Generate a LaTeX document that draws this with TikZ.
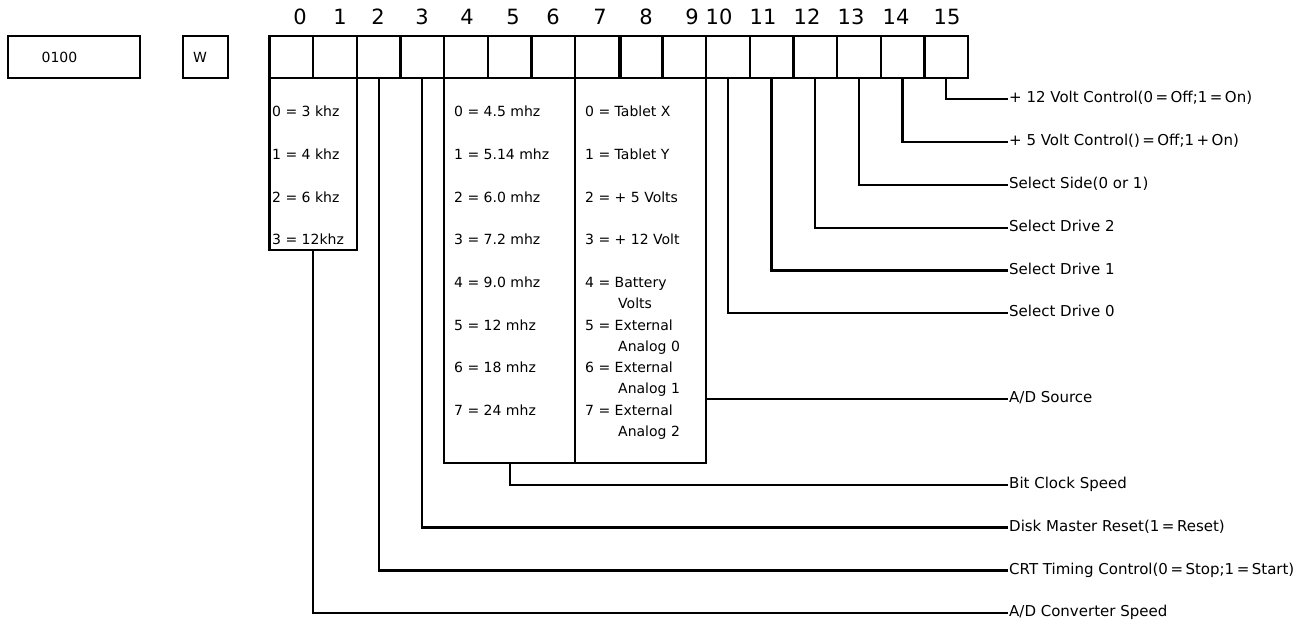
\documentclass[tikz,border=0pt]{standalone}
\usepackage{fontspec}
\setmainfont{DejaVu Sans}
\newcommand\labfont{\fontsize{15}{18}\selectfont}
\newcommand\valfont{\fontsize{14}{17}\selectfont}
\newcommand\digfont{\fontsize{21}{24}\selectfont}
\newcommand\eqs{\,=\,}
\begin{document}
\begin{tikzpicture}[x=1pt,y=-1pt,
  ln/.style={line width=2.2pt},
  cell/.style={draw,line width=2.2pt,minimum width=43.66pt,minimum height=42pt,inner sep=0pt},
  boxr/.style={draw,line width=2.2pt,inner sep=0pt},
  dig/.style={font=\digfont,inner sep=0pt},
  lab/.style={anchor=west,inner sep=1pt,font=\labfont,text height=0.73em,text depth=0pt},
  val/.style={anchor=west,inner sep=0pt,font=\valfont,text height=0.73em,text depth=0pt}]
\useasboundingbox[fill=white] (0,0) rectangle (1312,625);

% left boxes
\node[boxr,minimum width=132pt,minimum height=42pt] (addr) at (74,57) {};
\node[font=\valfont,inner sep=0pt] (addrtxt) at (59.5,57) {0100};
\node[boxr,minimum width=45pt,minimum height=42pt] (wbox) at (205.5,57) {};
\node[font=\valfont,inner sep=0pt] (wtxt) at (200,57) {W};

% register cells
\foreach \i in {0,...,15}
  \node[cell] (c\i) at ({269.5+43.66*(\i+0.5)},57) {};
\draw[line width=4.5pt] (c7.north east) -- (c7.south east);

% bit numbers
\foreach \i/\x in {0/300,1/340,2/378,3/422,4/467,5/513,6/553,7/600,8/646,9/692,10/719,11/763,12/807,13/851,14/896,15/947}
  \node[dig] (d\i) at (\x,17) {\i};

% value boxes
\node[boxr,minimum width=87.3pt,minimum height=172pt] (adbox) at (313.15,164) {};
\node[boxr,minimum width=131pt,minimum height=385pt] (clkbox) at (509.6,270.5) {};
\node[boxr,minimum width=131pt,minimum height=385pt] (srcbox) at (640.6,270.5) {};

% A/D converter speed values
\foreach \t [count=\k from 0] in {{0 = 3 khz},{1 = 4 khz},{2 = 6 khz},{3 = 12khz}}
  \node[val] (a\k) at (272,{113+42.7*\k}) {\t};

% bit clock speed values
\foreach \t [count=\k from 0] in {{0 = 4.5 mhz},{1 = 5.14 mhz},{2 = 6.0 mhz},{3 = 7.2 mhz},{4 = 9.0 mhz},{5 = 12 mhz},{6 = 18 mhz},{7 = 24 mhz}}
  \node[val] (b\k) at (454,{113+42.7*\k}) {\t};

% A/D source values
\foreach \t [count=\k from 0] in {{0 = Tablet X},{1 = Tablet Y},{2 = + 5 Volts},{3 = + 12 Volt},{4 = Battery},{5 = External},{6 = External},{7 = External}}
  \node[val] (s\k) at (585,{113+42.7*\k}) {\t};
\foreach \t [count=\k from 4] in {{Volts},{Analog 0},{Analog 1},{Analog 2}}
  \node[val] (t\k) at (618,{134+42.7*\k}) {\t};

% right labels
\node[lab] (l15) at (1008,99) {+ 12 Volt Control(0\eqs Off;1\eqs On)};
\node[lab] (l14) at (1008,141.9) {+ 5 Volt Control()\eqs Off;1\,+\,On)};
\node[lab] (l13) at (1008,184.7) {Select Side(0 or 1)};
\node[lab] (l12) at (1008,227.6) {Select Drive 2};
\node[lab] (l11) at (1008,270.4) {Select Drive 1};
\node[lab] (l10) at (1008,313.3) {Select Drive 0};
\node[lab] (lsrc) at (1008,399) {A/D Source};
\node[lab] (lclk) at (1008,484.7) {Bit Clock Speed};
\node[lab] (lrst) at (1008,527.5) {Disk Master Reset(1\eqs Reset)};
\node[lab] (lcrt) at (1008,570.4) {CRT Timing Control(0\eqs Stop;1\eqs Start)};
\node[lab] (lconv) at (1008,613.2) {A/D Converter Speed};

% connectors
\draw[ln] (c15.south) |- (l15.west);
\draw[ln] (c14.south) |- (l14.west);
\draw[ln] (c13.south) |- (l13.west);
\draw[ln] (c12.south) |- (l12.west);
\draw[ln] (c11.south) |- (l11.west);
\draw[ln] (c10.south) |- (l10.west);
\draw[ln] (srcbox.east |- lsrc.west) -- (lsrc.west);
\draw[ln] (clkbox.south) |- (lclk.west);
\draw[ln] (c3.south) |- (lrst.west);
\draw[ln] (c2.south) |- (lcrt.west);
\draw[ln] (adbox.south) |- (lconv.west);
\end{tikzpicture}
\end{document}
